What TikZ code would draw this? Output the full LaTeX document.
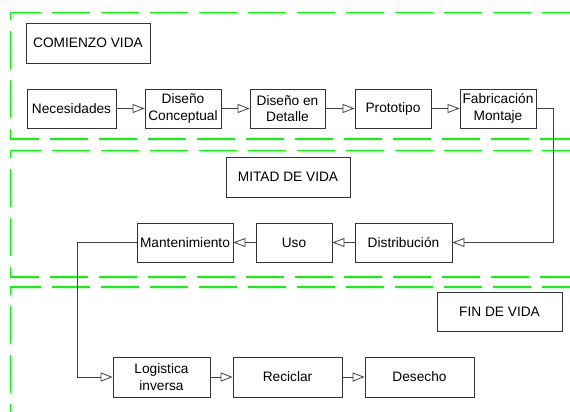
\documentclass[tikz,border=0pt]{standalone}
\usepackage{fontspec}
\setmainfont{Liberation Sans}
\usetikzlibrary{arrows.meta}

\begin{document}
\begin{tikzpicture}[x=1pt,y=-1pt,
    frame/.style={
        draw=green,
        line width=1.1pt,
        dash pattern=on 38pt off 11pt},
    flow/.style={
        draw=black!75,
        line width=0.9pt,
        -{Triangle[open,length=12pt,width=9pt,line width=0.8pt]}}]

\useasboundingbox (0,0) rectangle (570,412);
\clip (0,0) rectangle (570,412);

% life stage frames, open to the right
\draw [frame] (580,12.5) -- (10.5,12.5) -- (10.5,139) -- (580,139);
\draw [frame] (580,150.5) -- (10.5,150.5) -- (10.5,277) -- (580,277);
\draw [frame] (580,287) -- (10.5,287) -- (10.5,430);


\begin{scope}[
    every node/.style={
        draw=black!80,
        line width=0.9pt,
        fill=white,
        minimum width=124pt,
        minimum height=40pt,
        font=\fontsize{13.7}{16.5}\selectfont}]

    \node (comienzo) at (88,43) {COMIENZO VIDA};
    \node (mitad) at (288,177) {MITAD DE VIDA};
    \node (fin) at (499.5,311.5) [minimum width=125pt,minimum height=39pt] {FIN DE VIDA};
\end{scope}


\begin{scope}[
    every node/.style={
        draw=black!80,
        line width=0.9pt,
        fill=white,
        align=center,
        inner sep=1pt,
        minimum width=76pt,
        minimum height=39pt,
        font=\fontsize{13.7}{16.5}\selectfont}]

    \node (necesidades) at (71.5,108.5) [minimum width=89pt] {Necesidades};
    \node (conceptual) at (183,108.5) {Diseño\\Conceptual};
    \node (detalle) at (287.5,108.5) [minimum width=75pt] {Diseño en\\Detalle};
    \node (prototipo) at (393,108.5) {Prototipo};
    \node (fabricacion) at (498,108.5) {Fabricación\\Montaje};

    \node (distribucion) at (403.5,242.5) [minimum width=97pt] {Distribución};
    \node (uso) at (294,242.5) {Uso};
    \node (mantenimiento) at (185,242.5) [minimum width=96pt] {Mantenimiento};

    \node (logistica) at (161.5,377) [minimum width=97pt,minimum height=40pt] {Logistica\\inversa};
    \node (reciclar) at (287.5,377) [minimum width=109pt,minimum height=40pt] {Reciclar};
    \node (desecho) at (419.5,377) [minimum width=109pt,minimum height=40pt] {Desecho};
\end{scope}


\coordinate (bajada) at (553,108.5);
\coordinate (retorno) at (77,242.5);

\path [flow] (necesidades) edge [flow] (conceptual);
\path [flow] (conceptual) edge [flow] (detalle);
\path [flow] (detalle) edge [flow] (prototipo);
\path [flow] (prototipo) edge [flow] (fabricacion);
\draw [flow] (fabricacion.east) -- (bajada) |- (distribucion.east);
\path [flow] (distribucion) edge [flow] (uso);
\path [flow] (uso) edge [flow] (mantenimiento);
\draw [flow] (mantenimiento.west) -- (retorno) |- (logistica.west);
\path [flow] (logistica) edge [flow] (reciclar);
\path [flow] (reciclar) edge [flow] (desecho);

\end{tikzpicture}
\end{document}
